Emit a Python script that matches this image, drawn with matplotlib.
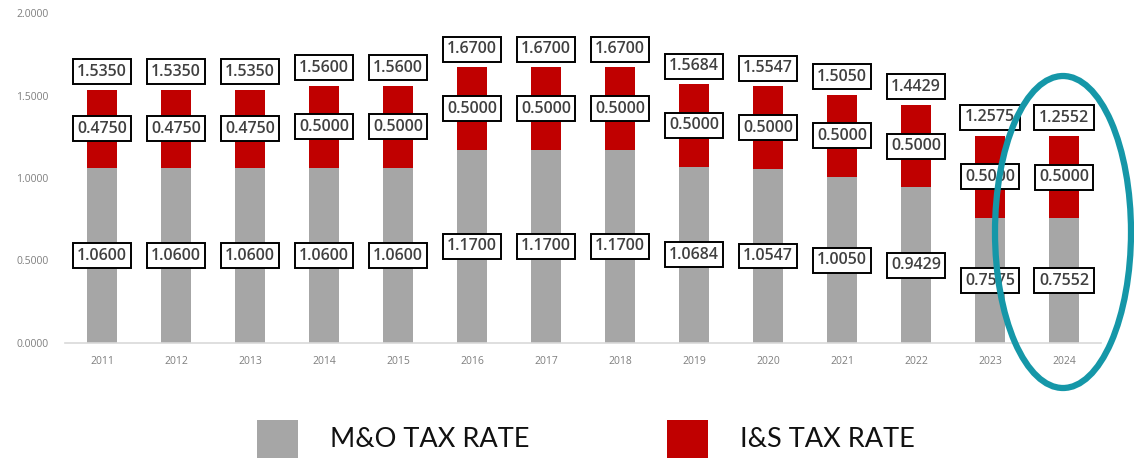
import matplotlib
matplotlib.use("Agg")
import matplotlib.pyplot as plt
from matplotlib.patches import Ellipse, Rectangle
import numpy as np

years = ["2011", "2012", "2013", "2014", "2015", "2016", "2017", "2018",
         "2019", "2020", "2021", "2022", "2023", "2024"]
mo_rate = [1.0600, 1.0600, 1.0600, 1.0600, 1.0600, 1.1700, 1.1700, 1.1700,
           1.0684, 1.0547, 1.0050, 0.9429, 0.7575, 0.7552]
is_rate = [0.4750, 0.4750, 0.4750, 0.5000, 0.5000, 0.5000, 0.5000, 0.5000,
           0.5000, 0.5000, 0.5000, 0.5000, 0.5000, 0.5000]
total_rate = [1.5350, 1.5350, 1.5350, 1.5600, 1.5600, 1.6700, 1.6700, 1.6700,
              1.5684, 1.5547, 1.5050, 1.4429, 1.2575, 1.2552]
yticks = [0.0, 0.5, 1.0, 1.5, 2.0]

GRAY = "#A6A6A6"
RED = "#C00000"
TEAL = "#1597A8"

W, H = 1134, 461
fig = plt.figure(figsize=(W / 100, H / 100), dpi=100)
ax = fig.add_axes([65 / W, 1 - 343 / H, (1101 - 65) / W, (343 - 13) / H])

x = np.arange(len(years))
ax.bar(x, mo_rate, width=0.4, color=GRAY, zorder=2)
ax.bar(x, is_rate, width=0.4, bottom=mo_rate, color=RED, zorder=2)

ax.set_xlim(-0.5, len(years) - 0.5)
ax.set_ylim(0, 2.0)
ax.set_yticks(yticks)
ax.set_yticklabels([f"{v:.4f}" for v in yticks])
ax.set_xticks(x)
ax.set_xticklabels(years)
ax.tick_params(axis="both", length=0, labelsize=7.5, labelcolor="#7F7F7F")
ax.tick_params(axis="y", pad=12)
ax.tick_params(axis="x", pad=9)
for lab in ax.get_xticklabels() + ax.get_yticklabels():
    lab.set_family("Open Sans")
for s in ["left", "right", "top"]:
    ax.spines[s].set_visible(False)
ax.spines["bottom"].set_color("#D9D9D9")
ax.spines["bottom"].set_linewidth(1.2)

box = dict(boxstyle="square,pad=0.28", facecolor="white", edgecolor="black", linewidth=1.4)
lab_kw = dict(ha="center", va="center", fontsize=11.5, fontweight="semibold",
              color="#404040", family="Open Sans", bbox=box, zorder=5)

for i in range(len(years)):
    ax.text(x[i], mo_rate[i] / 2, f"{mo_rate[i]:.4f}", **lab_kw)
    ax.text(x[i], mo_rate[i] + is_rate[i] / 2, f"{is_rate[i]:.4f}", **lab_kw)
    ax.annotate(f"{total_rate[i]:.4f}", (x[i], total_rate[i]),
                xytext=(0, 13), textcoords="offset points", annotation_clip=False,
                **lab_kw)

# Legend
fig.patches.append(Rectangle((257 / W, 1 - 458 / H), 41 / W, 38 / H,
                             transform=fig.transFigure, facecolor=GRAY, edgecolor="none"))
fig.patches.append(Rectangle((667 / W, 1 - 458 / H), 41 / W, 38 / H,
                             transform=fig.transFigure, facecolor=RED, edgecolor="none"))
fig.text(330 / W, 1 - 439 / H, "M&O TAX RATE", fontsize=19.5, family="Lato",
         fontweight="normal", color="#111111", va="center", ha="left")
fig.text(740 / W, 1 - 439 / H, "I&S TAX RATE", fontsize=19.5, family="Lato",
         fontweight="normal", color="#111111", va="center", ha="left")

# Highlight ellipse
ell = Ellipse((1063 / W, 1 - 232 / H), 136 / W, 312 / H, transform=fig.transFigure,
              facecolor="none", edgecolor=TEAL, linewidth=4.5, zorder=10)
fig.patches.append(ell)

fig.savefig("out.png", dpi=100)
